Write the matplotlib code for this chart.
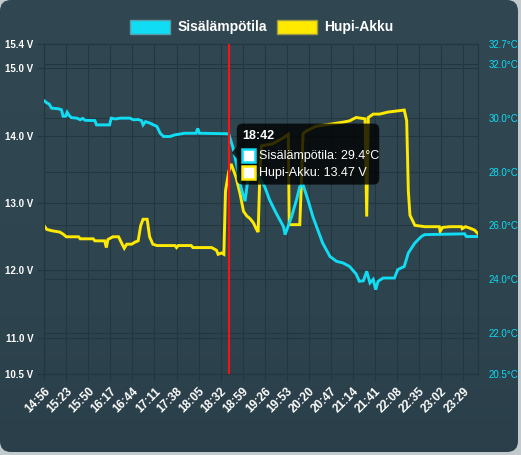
import matplotlib
matplotlib.use("Agg")
import matplotlib.pyplot as plt
import matplotlib.patches as patches
from matplotlib.colors import LinearSegmentedColormap
import numpy as np

plt.rcParams['font.family'] = ['Liberation Sans', 'DejaVu Sans']

# --- DATA ---
x_labels = ["14:56", "15:23", "15:50", "16:17", "16:44", "17:11", "17:38", "18:05", "18:32", "18:59",
            "19:26", "19:53", "20:20", "20:47", "21:14", "21:41", "22:08", "22:35", "23:02", "23:29"]
end_time = "23:47"

temp_times = ["14:56", "14:59", "15:02", "15:05", "15:13", "15:17", "15:19", "15:22", "15:24", "15:26",
              "15:29", "15:36", "15:40", "15:43", "15:46", "15:58", "16:00", "16:16", "16:18", "16:23",
              "16:29", "16:41", "16:45", "16:51", "16:55", "16:57", "17:00", "17:05", "17:14", "17:18",
              "17:22", "17:30", "17:36", "17:48", "18:02", "18:04", "18:06", "18:42", "18:47", "18:52",
              "18:57", "19:02", "19:05", "19:10", "19:16", "19:26", "19:32", "19:40", "19:49", "19:51",
              "19:59", "20:05", "20:09", "20:13", "20:15", "20:19", "20:25", "20:31", "20:37", "20:46",
              "20:54", "21:02", "21:10", "21:18", "21:22", "21:27", "21:31", "21:35", "21:39", "21:42",
              "21:45", "21:51", "22:05", "22:09", "22:17", "22:22", "22:30", "22:38", "22:42", "23:31",
              "23:33", "23:47"]
temp_values = [30.62, 30.55, 30.50, 30.35, 30.33, 30.29, 30.05, 30.05, 30.20, 30.10,
               30.00, 29.98, 29.92, 29.97, 29.90, 29.89, 29.73, 29.73, 29.98, 29.95,
               29.98, 29.98, 29.92, 29.93, 29.89, 29.73, 29.85, 29.80, 29.67, 29.42,
               29.30, 29.30, 29.36, 29.42, 29.42, 29.60, 29.42, 29.40, 28.90, 28.20,
               27.40, 26.90, 27.60, 28.20, 27.94, 27.44, 26.95, 26.46, 25.96, 25.66,
               26.33, 26.95, 27.44, 27.51, 27.32, 26.95, 26.33, 25.84, 25.35, 24.85,
               24.67, 24.61, 24.48, 24.20, 23.93, 23.95, 24.30, 23.87, 24.00, 23.62,
               23.93, 24.05, 24.05, 24.36, 24.48, 24.98, 25.35, 25.59, 25.66, 25.69,
               25.59, 25.59]

volt_times = ["14:56", "14:59", "15:05", "15:15", "15:19", "15:23", "15:38", "15:40", "15:56", "15:58",
              "16:10", "16:12", "16:14", "16:20", "16:27", "16:31", "16:34", "16:37", "16:43", "16:47",
              "16:51", "16:54", "16:57", "17:02", "17:05", "17:09", "17:14", "17:36", "17:38", "17:40",
              "17:56", "17:58", "18:21", "18:27", "18:29", "18:33", "18:36", "18:38", "18:42", "18:45",
              "18:51", "18:56", "19:00", "19:04", "19:08", "19:12", "19:16", "19:18", "19:20", "19:22",
              "19:36", "19:49", "19:55", "19:56", "20:09", "20:11", "20:13", "20:17", "20:29", "20:46",
              "21:02", "21:10", "21:18", "21:29", "21:31", "21:33", "21:39", "21:47", "21:57", "22:17",
              "22:20", "22:22", "22:24", "22:28", "22:30", "22:42", "23:00", "23:01", "23:04", "23:13",
              "23:27", "23:28", "23:32", "23:37", "23:43", "23:47"]
volt_values = [12.66, 12.61, 12.59, 12.57, 12.54, 12.50, 12.50, 12.47, 12.47, 12.44,
               12.44, 12.34, 12.46, 12.50, 12.50, 12.40, 12.33, 12.39, 12.39, 12.42,
               12.44, 12.66, 12.76, 12.76, 12.50, 12.39, 12.37, 12.37, 12.34, 12.37,
               12.37, 12.34, 12.34, 12.30, 12.24, 12.26, 12.24, 13.18, 13.47, 13.58,
               13.38, 13.13, 12.88, 12.81, 12.77, 12.71, 12.61, 12.57, 13.39, 13.85,
               13.88, 13.97, 14.02, 12.68, 12.68, 13.29, 14.03, 14.07, 14.14, 14.17,
               14.20, 14.22, 14.27, 14.25, 12.80, 14.27, 14.32, 14.32, 14.35, 14.38,
               14.22, 13.18, 12.82, 12.72, 12.67, 12.65, 12.65, 12.58, 12.64, 12.65,
               12.65, 12.62, 12.65, 12.63, 12.60, 12.55]

volt_ticks = [11.0, 12.0, 13.0, 14.0, 15.0]
volt_range = (10.46, 15.36)
temp_ticks = [22.0, 24.0, 26.0, 28.0, 30.0, 32.0]
temp_range = (20.48, 32.73)

marker_time = "18:42"
tip_temp = 29.4
tip_volt = 13.47

CYAN = '#10dcf4'
YELLOW = '#ffe900'
GRID = '#233740'
W, H = 521, 455


def minutes(t):
    h, m = t.split(":")
    h0, m0 = x_labels[0].split(":")
    return int(h) * 60 + int(m) - (int(h0) * 60 + int(m0))


fig = plt.figure(figsize=(W / 100, H / 100), dpi=100, facecolor='#c3cacd')

# --- card background ---
bg = fig.add_axes([0, 0, 1, 1], zorder=0)
bg.set_xlim(0, W); bg.set_ylim(H, 0); bg.axis('off')
card = patches.FancyBboxPatch((0, 0), 518, 452, boxstyle="round,pad=0,rounding_size=11",
                              facecolor='none', edgecolor='none')
bg.add_patch(card)
cmap = LinearSegmentedColormap.from_list('card', ['#314852', '#2f4650', '#2a3f49'])
grad = np.linspace(0, 1, 256).reshape(-1, 1)
im = bg.imshow(grad, extent=(0, 518, 452, 0), cmap=cmap, aspect='auto')
im.set_clip_path(card)

# --- legend ---
for bx, tx, col, edge, name in [(130, 178, CYAN, '#5a9aa6', "Sisälämpötila"),
                                (277, 324, YELLOW, '#9c9b45', "Hupi-Akku")]:
    bg.add_patch(patches.Rectangle((bx, 20), 40, 14, facecolor=col, edgecolor=edge, lw=1))
    bg.text(tx, 27.5, name, color='white', fontsize=10, fontweight='bold', va='center', ha='left')

# --- main axes ---
ax = fig.add_axes([44.3 / W, 1 - 374.3 / H, (477.7 - 44.3) / W, (374.3 - 44) / H], zorder=1)
ax.patch.set_alpha(0)
ax2 = ax.twinx()

x_end = minutes(end_time)
ax.set_xlim(0, x_end)
ax.set_ylim(*volt_range)
ax2.set_ylim(*temp_range)

xt = [minutes(t) for t in x_labels]
ax.set_xticks(xt)
ax.set_xticklabels(x_labels, rotation=45, ha='right', va='top', rotation_mode='anchor',
                   fontsize=8.5, fontweight='bold', color='white')

vt = [volt_range[0]] + volt_ticks + [volt_range[1]]
ax.set_yticks(vt)
ax.set_yticklabels([f"{v:.1f} V" for v in vt], fontsize=7, fontweight='bold', color='white')
tt = [temp_range[0]] + temp_ticks + [temp_range[1]]
ax2.set_yticks(tt)
ax2.set_yticklabels([f"{v:.1f}°C" for v in tt], fontsize=7, color=CYAN)

ax.tick_params(axis='x', length=5, width=0.8, color=GRID, pad=3)
ax.tick_params(axis='y', length=5, width=0.8, color=GRID, pad=3)
ax2.tick_params(axis='y', length=0, pad=8)

ax.grid(True, color=GRID, lw=0.8, zorder=0)
# right-axis grid lines, drawn on the left axes so the data stays on top
for t in temp_ticks:
    v = volt_range[0] + (t - temp_range[0]) * (volt_range[1] - volt_range[0]) / (temp_range[1] - temp_range[0])
    ax.axhline(v, color=GRID, lw=0.8, zorder=0)
for a in (ax, ax2):
    for s in a.spines.values():
        s.set_color(GRID); s.set_linewidth(0.8)
ax.set_axisbelow(True)

ax.plot([minutes(t) for t in volt_times], volt_values, color=YELLOW, lw=2.1, zorder=3,
        solid_joinstyle='miter')
ax2.plot([minutes(t) for t in temp_times], temp_values, color=CYAN, lw=2.1, zorder=3,
         solid_joinstyle='miter')
ax2.axvline(minutes(marker_time), color='#ff1010', lw=1.5, zorder=5)

# --- tooltip (overlay) ---
fig.canvas.draw()
ov = fig.add_axes([0, 0, 1, 1], zorder=10)
ov.set_xlim(0, W); ov.set_ylim(H, 0); ov.axis('off'); ov.patch.set_alpha(0)
px, py1 = ax2.transData.transform((minutes(marker_time), tip_temp))
_, py2 = ax.transData.transform((minutes(marker_time), tip_volt))
tip_x = px + 3
tip_y = H - (py1 + py2) / 2
bx0, by0 = tip_x + 5, tip_y - 29
ov.add_patch(patches.FancyBboxPatch((bx0, by0), 142.5, 61, boxstyle="round,pad=0,rounding_size=6",
                                    facecolor='black', edgecolor='none', alpha=0.8))
ov.add_patch(patches.Polygon([[bx0, tip_y - 6], [tip_x, tip_y], [bx0, tip_y + 6]],
                             closed=True, facecolor='black', edgecolor='none', alpha=0.8))
ov.text(bx0 + 5.5, by0 + 12, marker_time, color='white', fontsize=9, fontweight='bold',
        va='center', ha='left')
rows = [(CYAN, f"Sisälämpötila: {tip_temp:.1f}°C"), (YELLOW, f"Hupi-Akku: {tip_volt:.2f} V")]
for i, (col, txt) in enumerate(rows):
    cy = by0 + 31.5 + i * 17
    ov.add_patch(patches.Rectangle((bx0 + 5, cy - 6.5), 13, 13, facecolor='white', edgecolor=col, lw=1.8))
    ov.text(bx0 + 22.5, cy + 0.5, txt, color='white', fontsize=9, va='center', ha='left')

fig.savefig('out.png', dpi=100, facecolor=fig.get_facecolor())
